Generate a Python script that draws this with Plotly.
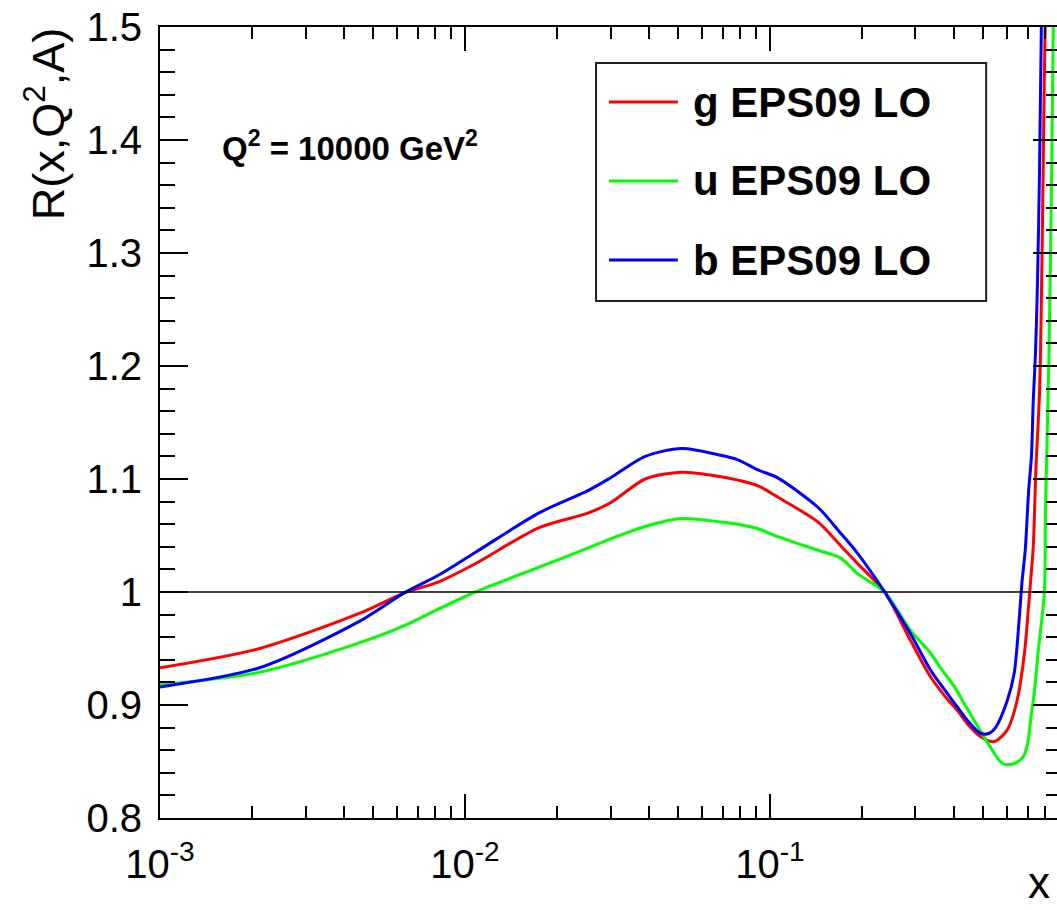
import numpy as np
import plotly.graph_objects as go

# Nuclear modification ratios R(x, Q^2, A) at Q^2 = 10000 GeV^2 (EPS09 LO)
x_g = [0.001, 0.00212, 0.0045, 0.0063, 0.0082, 0.0108, 0.0175, 0.0254, 0.030, 0.039,
       0.0513, 0.069, 0.0785, 0.0914, 0.106, 0.1435, 0.1705, 0.194, 0.2377, 0.289,
       0.336, 0.382, 0.412, 0.445, 0.49, 0.524, 0.549, 0.60, 0.646, 0.683, 0.70, 0.717,
       0.73, 0.745, 0.766, 0.782, 0.793, 0.81]
r_g = [0.933, 0.950, 0.981, 0.999, 1.009, 1.025, 1.057, 1.070, 1.079, 1.100,
       1.106, 1.102, 1.099, 1.094, 1.084, 1.062, 1.041, 1.025, 1.000, 0.957,
       0.925, 0.905, 0.895, 0.883, 0.872, 0.868, 0.868, 0.878, 0.904, 0.946, 0.978, 1.013,
       1.040, 1.110, 1.180, 1.320, 1.450, 1.600]

x_u = [0.001, 0.00212, 0.0045, 0.0063, 0.0082, 0.0108, 0.0175, 0.0254, 0.030, 0.039,
       0.0513, 0.069, 0.0785, 0.0914, 0.106, 0.1435, 0.1705, 0.194, 0.2377, 0.289,
       0.336, 0.362, 0.403, 0.434, 0.505, 0.524, 0.58, 0.63, 0.676, 0.70, 0.717, 0.735,
       0.758, 0.794, 0.80, 0.822, 0.839, 0.849, 0.86]
r_u = [0.918, 0.929, 0.955, 0.970, 0.985, 1.000, 1.022, 1.039, 1.047, 1.058,
       1.065, 1.062, 1.060, 1.056, 1.049, 1.037, 1.030, 1.016, 1.000, 0.966,
       0.946, 0.933, 0.916, 0.901, 0.871, 0.864, 0.848, 0.848, 0.854, 0.866, 0.889, 0.910,
       0.948, 1.000, 1.070, 1.210, 1.375, 1.500, 1.600]

x_b = [0.001, 0.00212, 0.0045, 0.0063, 0.0082, 0.0108, 0.0175, 0.0254, 0.030, 0.039,
       0.0513, 0.069, 0.0785, 0.0914, 0.106, 0.1435, 0.1705, 0.194, 0.2377, 0.289,
       0.336, 0.382, 0.412, 0.445, 0.49, 0.524, 0.549, 0.60, 0.632, 0.656, 0.671, 0.687,
       0.705, 0.72, 0.73, 0.742, 0.753, 0.765, 0.776, 0.79]
r_b = [0.916, 0.933, 0.974, 0.999, 1.015, 1.035, 1.070, 1.090, 1.101, 1.120,
       1.127, 1.121, 1.117, 1.108, 1.101, 1.075, 1.052, 1.034, 1.000, 0.963,
       0.931, 0.910, 0.898, 0.886, 0.875, 0.875, 0.880, 0.904, 0.928, 0.975, 1.010, 1.037,
       1.090, 1.120, 1.170, 1.210, 1.270, 1.370, 1.500, 1.600]

series_names = ["g EPS09 LO", "u EPS09 LO", "b EPS09 LO"]
series_colors = ["#ff0000", "#00ff00", "#0000ff"]
series_x = [x_g, x_u, x_b]
series_r = [r_g, r_u, r_b]

x_major = [1e-3, 1e-2, 1e-1]
x_major_text = ["10<sup>-3</sup>", "10<sup>-2</sup>", "10<sup>-1</sup>"]
x_minor = [m * d for d in x_major for m in range(2, 10)]

# Canvas geometry (pixels)
W, H = 1064, 910
ML, MR, MT, MB = 160, 1, 27, 92
PW, PH = W - ML - MR, H - MT - MB


def px(xp):
    return (xp - ML) / PW


def py(yp):
    return (H - MB - yp) / PH


FONT = "Liberation Sans, Arial, Helvetica, sans-serif"

fig = go.Figure()
for name, col, xs, rs in zip(series_names, series_colors, series_x, series_r):
    fig.add_trace(go.Scatter(x=xs, y=rs, mode="lines", name=name,
                             line=dict(color=col, width=3, shape="spline", smoothing=0.8),
                             showlegend=False))

# reference line R = 1
fig.add_shape(type="line", xref="paper", yref="y", x0=0, x1=1, y0=1, y1=1,
              line=dict(color="black", width=1.5))

# legend box
fig.add_shape(type="rect", xref="paper", yref="paper",
              x0=px(597), x1=px(988), y0=py(301), y1=py(63),
              line=dict(color="#222", width=2), fillcolor="white", layer="above")
for i, (name, col) in enumerate(zip(series_names, series_colors)):
    yl = 102 + 79 * i
    fig.add_shape(type="line", xref="paper", yref="paper",
                  x0=px(610), x1=px(679), y0=py(yl), y1=py(yl),
                  line=dict(color=col, width=3), layer="above")
    fig.add_annotation(text="<b>%s</b>" % name, xref="paper", yref="paper",
                       x=px(692), y=py(yl), xanchor="left", yanchor="middle",
                       showarrow=False, font=dict(family=FONT, size=42, color="black"))

fig.add_annotation(text="<b>Q<sup>2</sup> = 10000 GeV<sup>2</sup></b>", xref="paper", yref="paper",
                   x=px(220), y=py(146), xanchor="left", yanchor="middle",
                   showarrow=False, font=dict(family=FONT, size=33, color="black"))

fig.add_annotation(text="R(x,Q<sup>2</sup>,A)", xref="paper", yref="paper",
                   x=px(45), y=py(124), xanchor="center", yanchor="middle", textangle=-90,
                   showarrow=False, font=dict(family=FONT, size=45, color="black"))

fig.add_annotation(text="x", xref="paper", yref="paper",
                   x=px(1054), y=py(909), xanchor="right", yanchor="bottom",
                   showarrow=False, font=dict(family=FONT, size=44, color="black"))

fig.update_xaxes(type="log", range=[-3, np.log10(0.9)],
                 tickmode="array", tickvals=x_major, ticktext=x_major_text,
                 ticks="inside", ticklen=24, tickwidth=2, tickcolor="black",
                 showline=True, linecolor="black", linewidth=2, mirror="ticks",
                 showgrid=False, zeroline=False, ticklabelstandoff=10,
                 tickfont=dict(family=FONT, size=40, color="black"),
                 minor=dict(tickmode="array", tickvals=x_minor, ticks="inside",
                            ticklen=12, tickwidth=2, tickcolor="black", showgrid=False))
fig.update_yaxes(range=[0.8, 1.5], tickmode="linear", tick0=0.8, dtick=0.1,
                 ticks="inside", ticklen=28, tickwidth=2, tickcolor="black",
                 showline=True, linecolor="black", linewidth=2, mirror="ticks",
                 showgrid=False, zeroline=False, ticklabelstandoff=8,
                 tickfont=dict(family=FONT, size=40, color="black"),
                 minor=dict(dtick=0.02, tick0=0.8, ticks="inside", ticklen=15,
                            tickwidth=2, tickcolor="black", showgrid=False))

fig.update_layout(width=W, height=H, margin=dict(l=ML, r=MR, t=MT, b=MB),
                  paper_bgcolor="white", plot_bgcolor="white", showlegend=False)

fig.write_html("out.html",
               post_script="document.documentElement.style.overflow='hidden';"
                           "document.body.style.overflow='hidden';")
